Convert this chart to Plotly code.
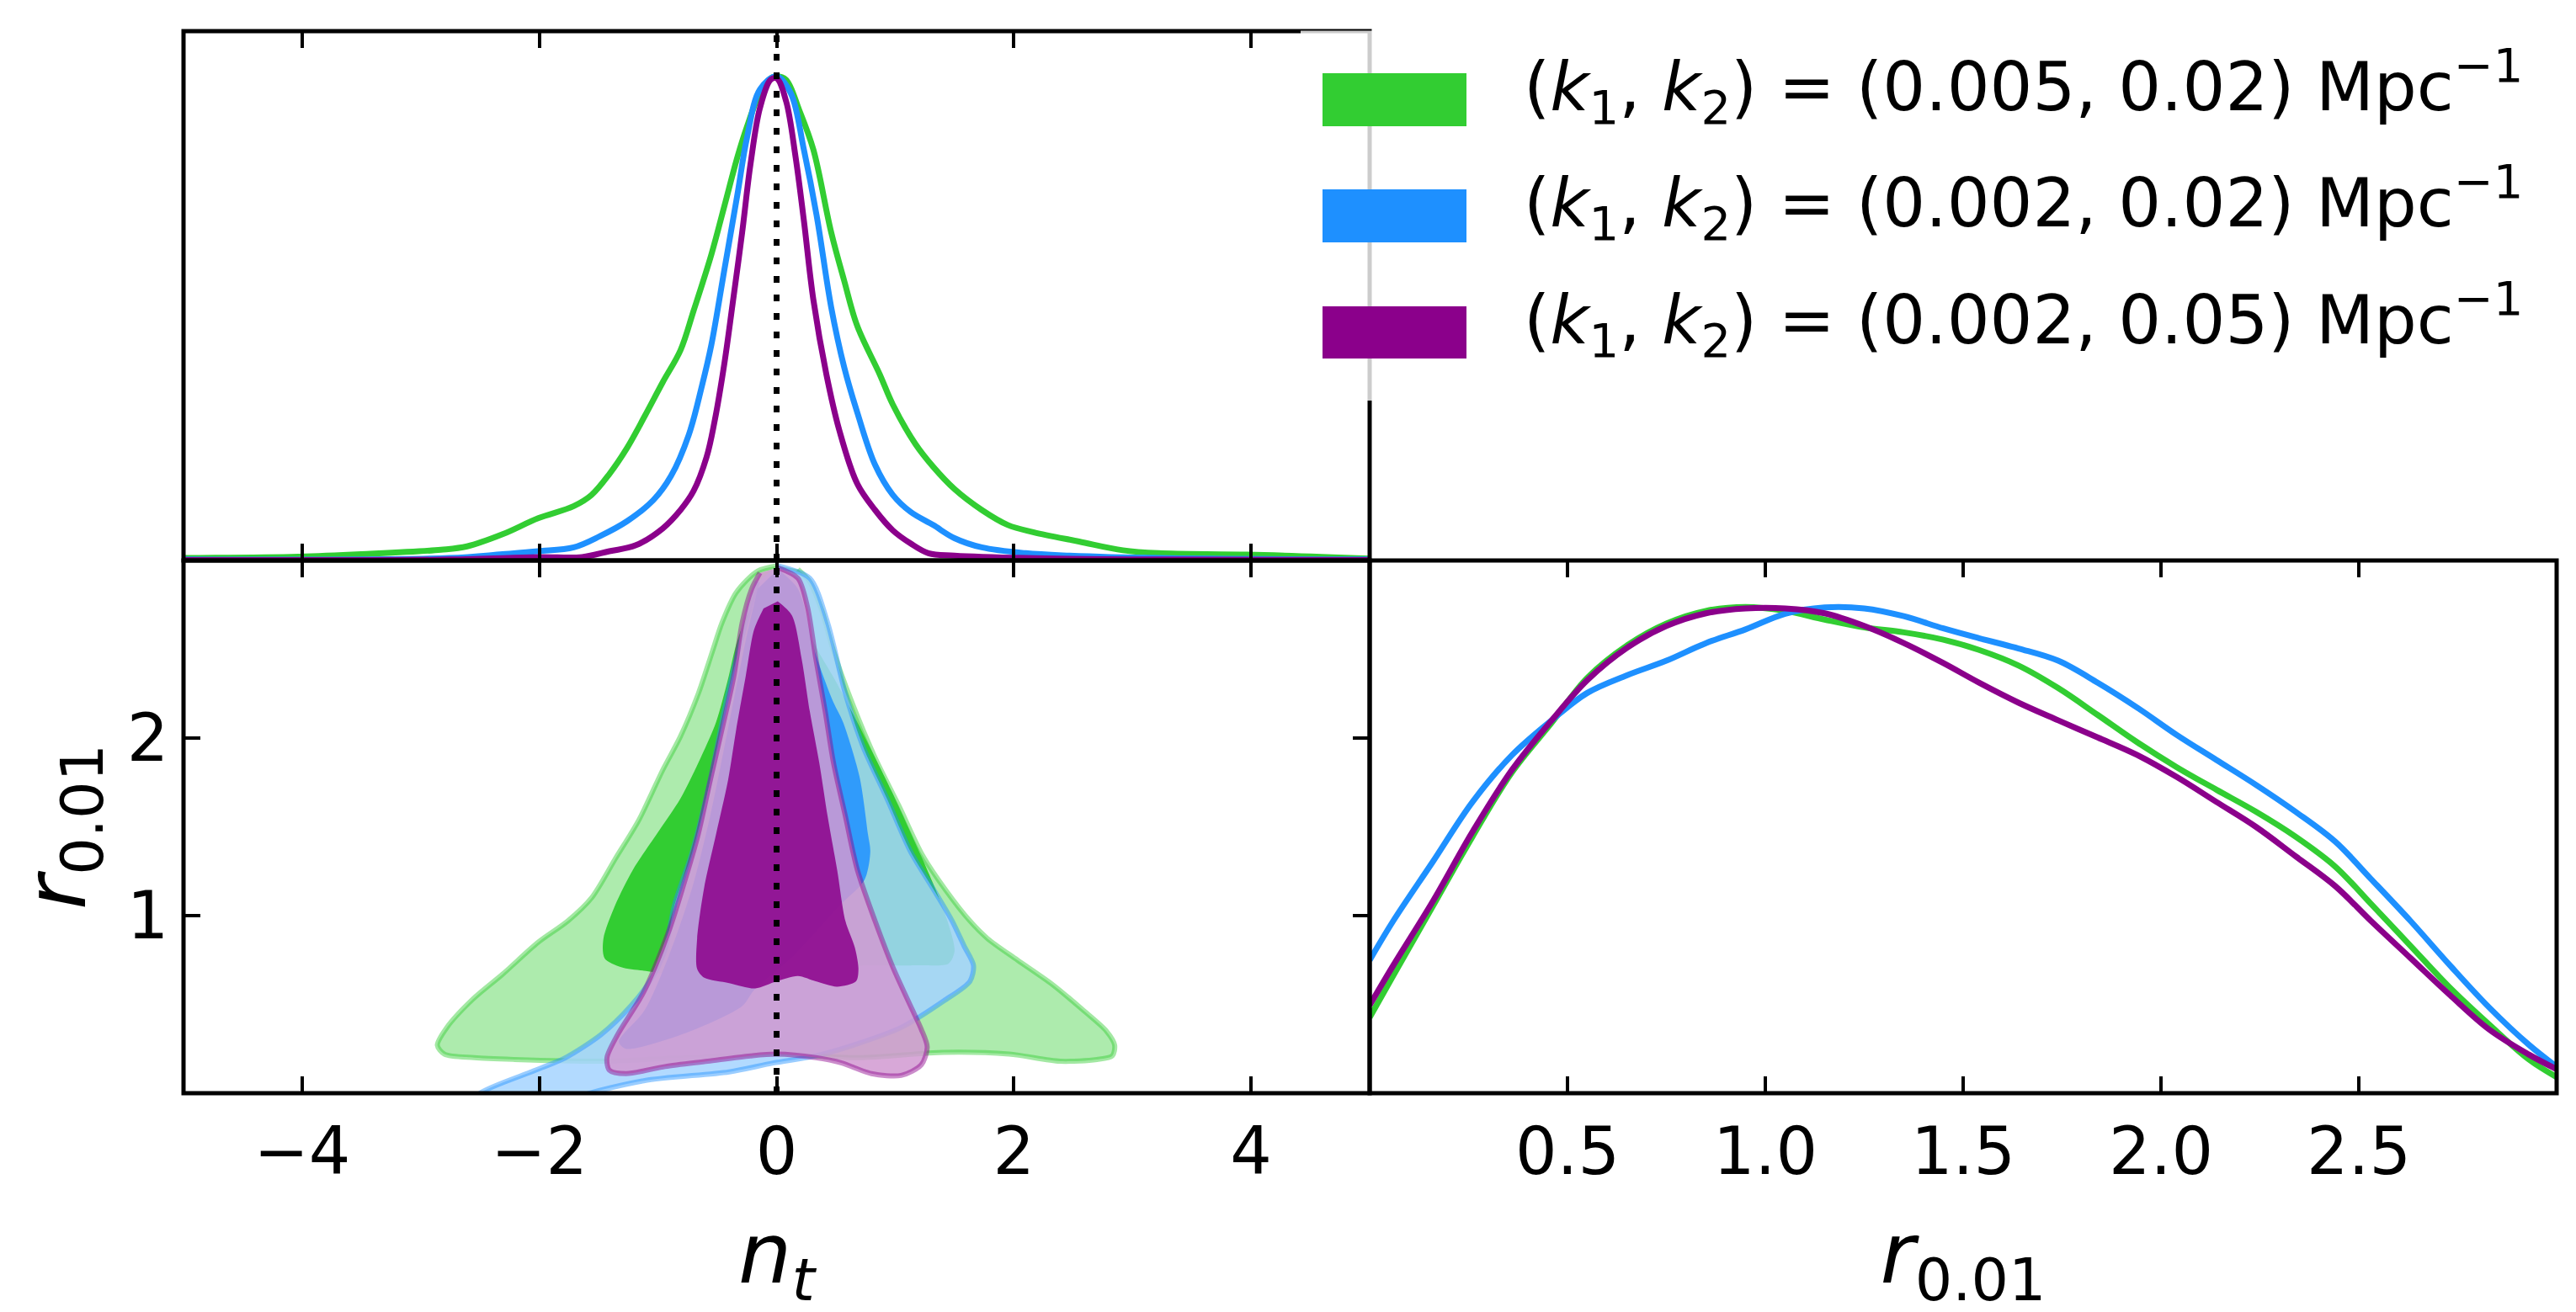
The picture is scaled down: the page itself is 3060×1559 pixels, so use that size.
import plotly.graph_objects as go

W, H = 3060, 1559
FONT = "DejaVu Sans"

GREEN = (50, 205, 50)
BLUE = (30, 144, 255)
PURPLE = (139, 0, 139)

labels = [
    "(<i>k</i><sub>1</sub>, <i>k</i><sub>2</sub>) = (0.005, 0.02) Mpc<sup>\u22121</sup>",
    "(<i>k</i><sub>1</sub>, <i>k</i><sub>2</sub>) = (0.002, 0.02) Mpc<sup>\u22121</sup>",
    "(<i>k</i><sub>1</sub>, <i>k</i><sub>2</sub>) = (0.002, 0.05) Mpc<sup>\u22121</sup>",
]

NT_REF = 0.0

# 1D marginal of n_t (normalised to peak 1)
nt_green = [-5.0, -4.03, -3.5, -2.83, -2.61, -2.31, -2.01, -1.71, -1.56, -1.41, -1.26, -1.11,
            -0.96, -0.81, -0.70, -0.55, -0.44, -0.33, -0.25, -0.14, -0.05, 0.0, 0.08, 0.19,
            0.31, 0.46, 0.57, 0.68, 0.87, 0.98, 1.17, 1.32, 1.50, 1.73, 1.95, 2.17, 2.55,
            2.92, 3.22, 3.97, 5.0]
p_nt_green = [0.005, 0.008, 0.013, 0.022, 0.029, 0.054, 0.087, 0.112, 0.135, 0.178, 0.232,
              0.298, 0.367, 0.433, 0.514, 0.630, 0.730, 0.831, 0.893, 0.963, 0.993, 0.997,
              0.990, 0.928, 0.846, 0.676, 0.576, 0.483, 0.383, 0.321, 0.240, 0.193, 0.147,
              0.104, 0.073, 0.058, 0.039, 0.021, 0.015, 0.012, 0.004]

nt_blue = [-5.0, -2.76, -2.31, -2.01, -1.71, -1.49, -1.26, -1.04, -0.89, -0.74, -0.63, -0.55,
           -0.44, -0.33, -0.25, -0.14, 0.0, 0.12, 0.23, 0.34, 0.46, 0.57, 0.68, 0.83, 0.98,
           1.13, 1.32, 1.50, 1.73, 2.10, 2.47, 3.22, 5.0]
p_nt_blue = [0.002, 0.005, 0.013, 0.019, 0.027, 0.050, 0.081, 0.124, 0.174, 0.259, 0.359, 0.444,
             0.599, 0.754, 0.870, 0.970, 0.997, 0.962, 0.846, 0.707, 0.522, 0.398, 0.305, 0.197,
             0.135, 0.100, 0.073, 0.046, 0.027, 0.015, 0.010, 0.005, 0.002]

nt_purple = [-5.0, -2.76, -2.01, -1.64, -1.41, -1.19, -0.96, -0.81, -0.70, -0.59, -0.52, -0.44,
             -0.37, -0.29, -0.22, -0.14, -0.05, 0.0, 0.08, 0.16, 0.23, 0.31, 0.42, 0.53, 0.68,
             0.83, 0.98, 1.13, 1.28, 1.50, 2.10, 3.22, 5.0]
p_nt_purple = [0.001, 0.002, 0.007, 0.007, 0.019, 0.031, 0.066, 0.104, 0.143, 0.213, 0.290, 0.406,
               0.530, 0.676, 0.816, 0.932, 0.990, 0.993, 0.946, 0.831, 0.700, 0.537, 0.383, 0.267,
               0.158, 0.104, 0.062, 0.035, 0.015, 0.010, 0.005, 0.002, 0.001]

# 1D marginal of r_0.01
r_grid = [0.00, 0.06, 0.16, 0.26, 0.36, 0.46, 0.55, 0.65, 0.75, 0.85, 0.95, 1.05, 1.15, 1.25,
          1.35, 1.45, 1.54, 1.64, 1.74, 1.84, 1.94, 2.04, 2.14, 2.24, 2.34, 2.44, 2.53, 2.63,
          2.73, 2.83, 2.93, 3.00]
p_r_green = [0.155, 0.241, 0.383, 0.525, 0.657, 0.758, 0.850, 0.916, 0.961, 0.987, 0.995, 0.987,
             0.969, 0.953, 0.943, 0.928, 0.907, 0.875, 0.829, 0.774, 0.718, 0.667, 0.621, 0.576,
             0.525, 0.464, 0.388, 0.302, 0.216, 0.140, 0.069, 0.033]
p_r_blue = [0.272, 0.353, 0.474, 0.596, 0.692, 0.763, 0.819, 0.855, 0.885, 0.921, 0.949, 0.981,
            0.994, 0.992, 0.976, 0.951, 0.931, 0.910, 0.885, 0.840, 0.789, 0.733, 0.682, 0.631,
            0.576, 0.515, 0.439, 0.353, 0.262, 0.175, 0.099, 0.054]
p_r_purple = [0.180, 0.262, 0.393, 0.535, 0.662, 0.763, 0.845, 0.911, 0.956, 0.982, 0.992, 0.992,
              0.982, 0.956, 0.921, 0.880, 0.840, 0.799, 0.763, 0.728, 0.692, 0.647, 0.596, 0.545,
              0.485, 0.424, 0.353, 0.277, 0.201, 0.130, 0.079, 0.049]

# 2D contours (n_t, r_0.01): 95% and 68% boundaries
g95_nt = [0.01, -0.16, -0.34, -0.46, -0.54, -0.66, -0.81, -0.96, -1.16, -1.36, -1.56, -1.76,
          -2.01, -2.31, -2.56, -2.78, -2.86, -2.80, -2.55, -2.21, -1.48, -0.76, 0.0, 0.69, 1.41,
          1.96, 2.39, 2.70, 2.83, 2.85, 2.78, 2.58, 2.33, 2.03, 1.78, 1.63, 1.43, 1.23, 1.03,
          0.83, 0.63, 0.48, 0.38, 0.28, 0.18]
g95_r = [2.97, 2.94, 2.82, 2.65, 2.49, 2.25, 2.01, 1.82, 1.54, 1.32, 1.10, 0.97, 0.85, 0.67,
         0.53, 0.37, 0.27, 0.22, 0.20, 0.19, 0.18, 0.20, 0.22, 0.20, 0.23, 0.22, 0.18, 0.19, 0.21,
         0.27, 0.35, 0.47, 0.61, 0.75, 0.87, 0.97, 1.14, 1.34, 1.62, 1.89, 2.21, 2.49, 2.72,
         2.88, 2.95]
g68_nt = [0.0, -0.22, -0.33, -0.41, -0.51, -0.66, -0.81, -1.01, -1.21, -1.36, -1.46, -1.45,
          -1.31, -1.12, -0.7, -0.2, 0.3, 0.73, 1.2, 1.45, 1.50, 1.45, 1.32, 0.97, 0.68, 0.49,
          0.35, 0.18]
g68_r = [2.82, 2.72, 2.55, 2.33, 2.09, 1.86, 1.66, 1.46, 1.26, 1.06, 0.87, 0.76, 0.71, 0.69,
         0.66, 0.68, 0.70, 0.72, 0.72, 0.73, 0.80, 0.95, 1.18, 1.70, 2.09, 2.33, 2.49, 2.72]

b95_nt = [0.01, 0.28, 0.43, 0.58, 0.73, 0.93, 1.13, 1.33, 1.48, 1.58, 1.66, 1.63, 1.41, 1.05,
          0.69, 0.33, -0.03, -0.40, -1.12, -1.66, -1.80, -2.60, -2.50, -2.03, -1.78, -1.48,
          -1.23, -1.05, -0.94, -0.86, -0.71, -0.56, -0.41, -0.26, -0.16]
b95_r = [2.97, 2.90, 2.65, 2.25, 1.95, 1.66, 1.36, 1.14, 0.97, 0.83, 0.72, 0.63, 0.52, 0.37,
         0.28, 0.21, 0.17, 0.12, 0.07, -0.02, -0.08, -0.08, 0.0, 0.13, 0.20, 0.33, 0.49, 0.65,
         0.81, 1.06, 1.36, 1.76, 2.25, 2.65, 2.88]
b68_nt = [0.01, 0.18, 0.33, 0.48, 0.56, 0.70, 0.77, 0.79, 0.74, 0.52, 0.15, -0.19, -0.29, -0.76,
          -1.27, -1.33, -1.11, -0.91, -0.71, -0.56, -0.41, -0.26, -0.16]
b68_r = [2.95, 2.84, 2.47, 2.20, 2.09, 1.78, 1.46, 1.36, 1.20, 1.05, 0.78, 0.58, 0.49, 0.34,
         0.25, 0.29, 0.47, 0.77, 1.16, 1.56, 2.05, 2.55, 2.84]

p95_nt = [0.01, 0.18, 0.26, 0.33, 0.41, 0.48, 0.58, 0.68, 0.83, 0.98, 1.13, 1.22, 1.27, 1.22,
          1.05, 0.80, 0.55, 0.33, 0.0, -0.22, -0.58, -0.94, -1.27, -1.41, -1.43, -1.34, -1.12,
          -0.91, -0.79, -0.66, -0.56, -0.46, -0.36, -0.29, -0.21, -0.14]
p95_r = [2.96, 2.90, 2.74, 2.45, 2.15, 1.86, 1.56, 1.26, 0.97, 0.71, 0.49, 0.36, 0.26, 0.16,
         0.10, 0.11, 0.17, 0.20, 0.22, 0.21, 0.18, 0.15, 0.11, 0.13, 0.20, 0.33, 0.57, 0.91,
         1.16, 1.46, 1.76, 2.05, 2.35, 2.65, 2.84, 2.93]
p68_nt = [0.01, 0.13, 0.21, 0.28, 0.36, 0.43, 0.51, 0.58, 0.66, 0.69, 0.67, 0.51, 0.33, 0.18,
          0.0, -0.18, -0.40, -0.61, -0.67, -0.67, -0.61, -0.51, -0.41, -0.34, -0.26, -0.19, -0.11]
p68_r = [2.77, 2.69, 2.45, 2.15, 1.86, 1.56, 1.26, 0.97, 0.82, 0.70, 0.63, 0.60, 0.63, 0.66,
         0.63, 0.59, 0.62, 0.65, 0.70, 0.87, 1.16, 1.46, 1.76, 2.05, 2.35, 2.61, 2.73]


def rgba(c, a):
    return "rgba(%d,%d,%d,%.3f)" % (c[0], c[1], c[2], a)


def light(c, f=0.6):
    return tuple(round(v + f * (255 - v)) for v in c)


def px(v):  # pixel -> paper
    return v / W


def py(v):
    return 1 - v / H


fig = go.Figure()

# --- 2D contours, bottom-left ---
sets = [
    (GREEN, g95_nt, g95_r, g68_nt, g68_r, 1.0),
    (BLUE, b95_nt, b95_r, b68_nt, b68_r, 0.85),
    (PURPLE, p95_nt, p95_r, p68_nt, p68_r, 0.85),
]
for col, n95, r95, n68, r68, a in sets:
    fig.add_trace(go.Scatter(x=n95, y=r95, xaxis="x2", yaxis="y2", mode="lines", fill="toself",
                             fillcolor=rgba(light(col), a),
                             line=dict(color=rgba(col, 0.45), width=6, shape="spline", smoothing=0.8),
                             hoverinfo="skip", showlegend=False))
    fig.add_trace(go.Scatter(x=n68, y=r68, xaxis="x2", yaxis="y2", mode="lines", fill="toself",
                             fillcolor=rgba(col, a),
                             line=dict(color=rgba(col, 0), width=0, shape="spline", smoothing=0.8),
                             hoverinfo="skip", showlegend=False))

# --- 1D n_t, top-left ---
for col, xs, ys in [(GREEN, nt_green, p_nt_green), (BLUE, nt_blue, p_nt_blue),
                    (PURPLE, nt_purple, p_nt_purple)]:
    fig.add_trace(go.Scatter(x=xs, y=ys, xaxis="x", yaxis="y", mode="lines",
                             line=dict(color=rgba(col, 1), width=7, shape="spline", smoothing=1.0),
                             showlegend=False))

# --- 1D r, bottom-right ---
for col, ys in [(GREEN, p_r_green), (BLUE, p_r_blue), (PURPLE, p_r_purple)]:
    fig.add_trace(go.Scatter(x=r_grid, y=ys, xaxis="x3", yaxis="y3", mode="lines",
                             line=dict(color=rgba(col, 1), width=7, shape="spline", smoothing=1.0),
                             showlegend=False))

# reference n_t = 0 lines
for xr, yr in [("x", "y domain"), ("x2", "y2 domain")]:
    fig.add_shape(type="line", xref=xr, yref=yr, x0=NT_REF, x1=NT_REF, y0=0, y1=1,
                  line=dict(color="black", width=7, dash="8px,14px"))

# panel frames (shared edges drawn once)
for xr, yr in [("x domain", "y domain"), ("x2 domain", "y2 domain"), ("x3 domain", "y3 domain")]:
    fig.add_shape(type="rect", xref=xr, yref=yr, x0=0, x1=1, y0=0, y1=1,
                  line=dict(color="black", width=5), fillcolor="rgba(0,0,0,0)")

# legend drawn by hand (big patches like matplotlib)
fig.add_shape(type="rect", xref="paper", yref="paper", x0=px(1537), x1=px(3045),
              y0=py(468), y1=py(28.5), fillcolor="rgba(255,255,255,0.8)", line_width=0)
patch_rows = [(79, 142), (217, 280), (356, 418)]
for (t, b), col, lab in zip(patch_rows, [GREEN, BLUE, PURPLE], labels):
    fig.add_shape(type="rect", xref="paper", yref="paper", x0=px(1563), x1=px(1734),
                  y0=py(b), y1=py(t), fillcolor=rgba(col, 1), line_width=0)
    fig.add_annotation(x=px(1800), y=py((t + b) / 2 - 16), xref="paper", yref="paper", text=lab,
                       showarrow=False, xanchor="left", yanchor="middle",
                       font=dict(family=FONT, size=80, color="black"))

x_left = [px(210), px(1619)]
x_right = [px(1619), px(3029)]
y_top = [py(658), py(29)]
y_bot = [py(1291), py(658)]

ax = dict(showline=True, linecolor="rgba(0,0,0,0)", linewidth=2, mirror="ticks", showgrid=False,
          zeroline=False, ticks="inside", ticklen=20, tickwidth=4, tickcolor="black",
          tickfont=dict(family=FONT, size=78, color="black"))
title_font = dict(family=FONT, size=100, color="black")

fig.update_layout(
    width=W, height=H, margin=dict(l=0, r=0, t=0, b=0),
    paper_bgcolor="white", plot_bgcolor="white", showlegend=False,
    font=dict(family=FONT, color="black"),
    xaxis=dict(ax, domain=x_left, anchor="y", range=[-5, 5], tickvals=[-4, -2, 0, 2, 4],
               showticklabels=False),
    yaxis=dict(ax, domain=y_top, anchor="x", range=[0, 1.09], ticks="", showticklabels=False),
    xaxis2=dict(ax, domain=x_left, anchor="y2", range=[-5, 5], tickvals=[-4, -2, 0, 2, 4],
                title=dict(text="<i>n</i><sub><i>t</i></sub>", font=title_font, standoff=42)),
    yaxis2=dict(ax, domain=y_bot, anchor="x2", range=[0, 3], tickvals=[1, 2],
                title=dict(text="<i>r</i><sub>0.01</sub>", font=title_font, standoff=20)),
    xaxis3=dict(ax, domain=x_right, anchor="y3", range=[0, 3],
                tickvals=[0.5, 1.0, 1.5, 2.0, 2.5], tickformat=".1f",
                title=dict(text="<i>r</i><sub>0.01</sub>", font=title_font, standoff=42)),
    yaxis3=dict(ax, domain=y_bot, anchor="x3", range=[0, 1.09], ticks="", showticklabels=False),
)

fig.write_html("out.html")
